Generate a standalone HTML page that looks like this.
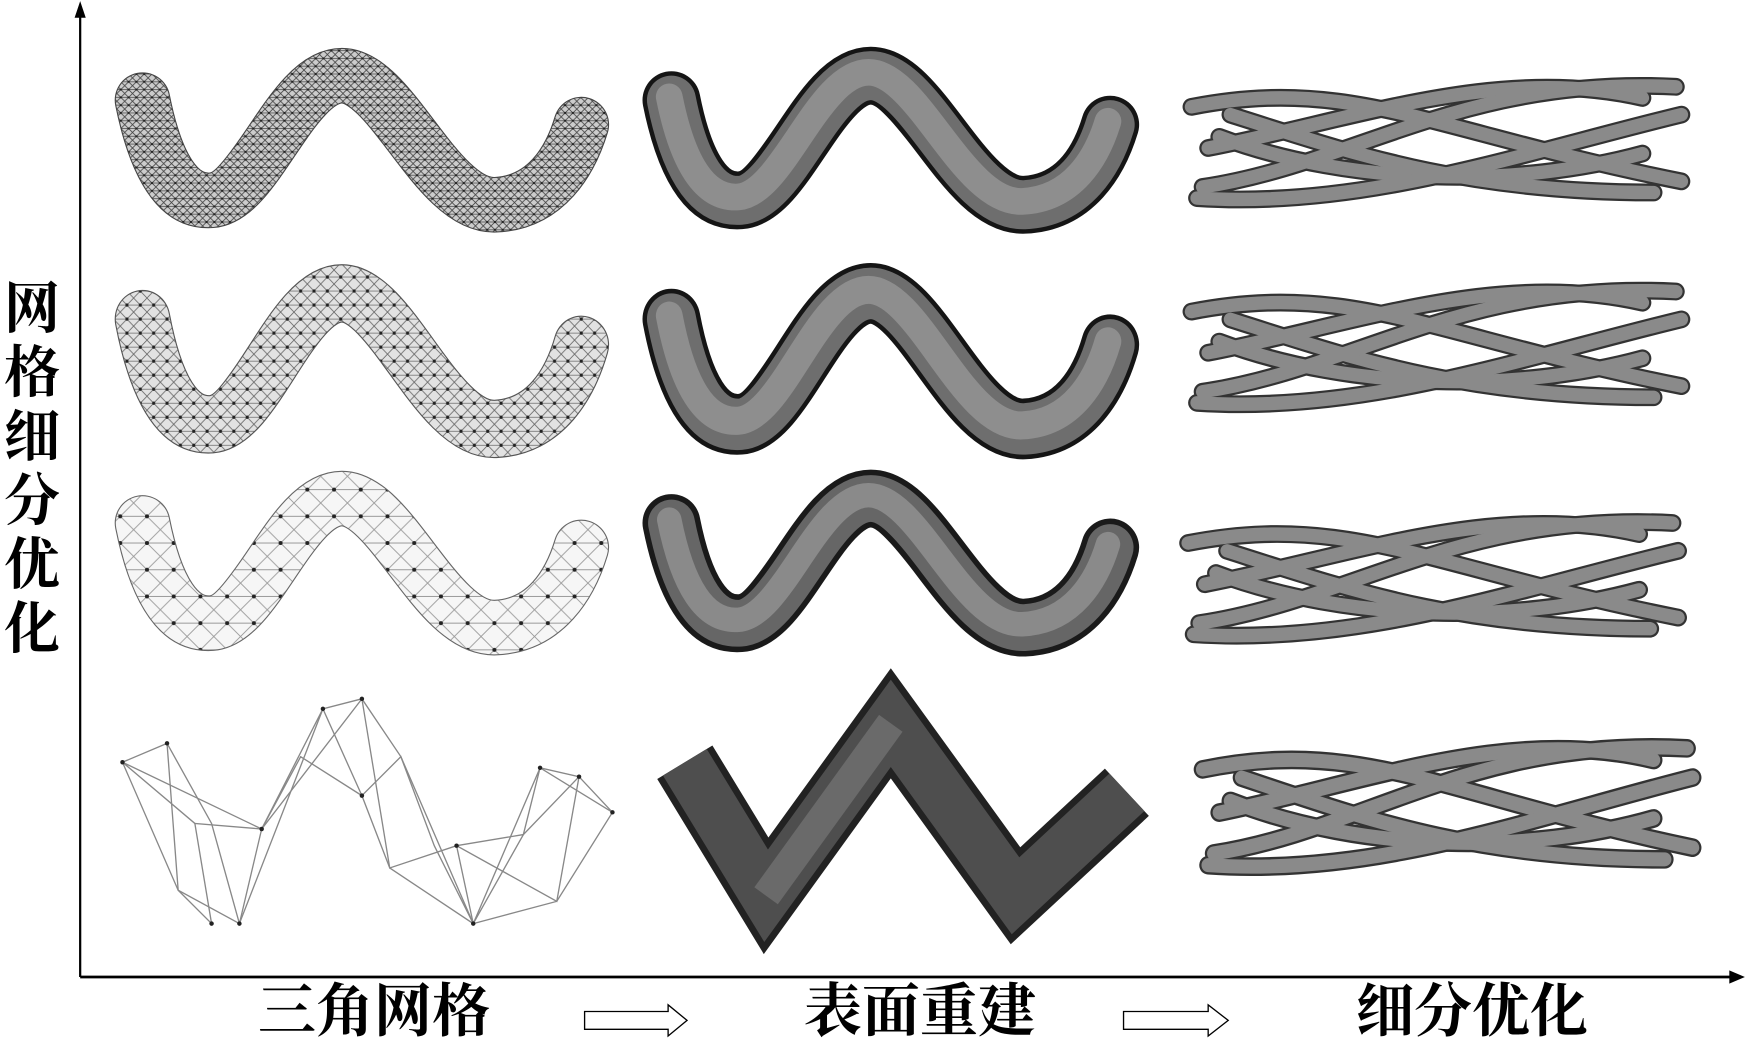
<!DOCTYPE html>
<html><head><meta charset="utf-8"><style>
html,body{margin:0;padding:0;background:#fff;}
body{width:1746px;height:1046px;position:relative;overflow:hidden;font-family:"Liberation Serif","Noto Serif CJK SC","Noto Sans CJK SC",serif;}
svg{position:absolute;left:0;top:0;}
.lab{position:absolute;font-size:58px;line-height:60px;color:#000;font-weight:bold;white-space:nowrap;}
.v{position:absolute;left:2px;top:278px;width:60px;font-size:56px;line-height:64px;font-weight:bold;text-align:center;}
</style></head><body>
<svg width="1746" height="1046" viewBox="0 0 1568 940" preserveAspectRatio="none">
<defs>
<path id="w" d="M128 90 C 140 150, 160 182, 190 180 C 230 177, 262 68, 307 68 C 352 68, 392 186, 445 184 C 490 182, 512 145, 522 112" fill="none"/>
<pattern id="mesh" width="7" height="7" patternUnits="userSpaceOnUse"><rect width="7" height="7" fill="#ccc"/><path d="M0 0L7 7M7 0L0 7M0 3.5H7" stroke="#444" stroke-width="0.7"/><circle cx="3.5" cy="3.5" r="1" fill="#222"/></pattern>
<pattern id="mesh2" width="12" height="12" patternUnits="userSpaceOnUse"><rect width="12" height="12" fill="#e2e2e2"/><path d="M0 0L12 12M12 0L0 12M0 6H12" stroke="#666" stroke-width="0.7"/><circle cx="6" cy="6" r="1.4" fill="#222"/></pattern>
<pattern id="mesh3" width="24" height="24" patternUnits="userSpaceOnUse"><rect width="24" height="24" fill="#f6f6f6"/><path d="M0 0L24 24M24 0L0 24M0 12H24" stroke="#999" stroke-width="0.8"/><circle cx="12" cy="12" r="1.8" fill="#222"/></pattern>
<g id="strands" fill="none" stroke-linecap="round">
<g stroke="#333" stroke-width="16">
<path d="M 40 35 C 150 70, 250 105, 420 105"/><path d="M 30 55 C 150 100, 300 100, 410 70"/><path d="M 5 28 C 150 0, 220 50, 445 95"/><path d="M 20 65 C 150 40, 280 -10, 410 20"/><path d="M 15 100 C 150 80, 250 0, 440 10"/><path d="M 10 110 C 160 120, 300 70, 445 35"/></g>
<g stroke="#8a8a8a" stroke-width="12">
<path d="M 40 35 C 150 70, 250 105, 420 105"/><path d="M 30 55 C 150 100, 300 100, 410 70"/><path d="M 5 28 C 150 0, 220 50, 445 95"/><path d="M 20 65 C 150 40, 280 -10, 410 20"/><path d="M 15 100 C 150 80, 250 0, 440 10"/><path d="M 10 110 C 160 120, 300 70, 445 35"/></g>
</g>
</defs>
<line x1="72" y1="10" x2="72" y2="878" stroke="#000" stroke-width="2"/>
<polygon points="72,1 67,16 77,16" fill="#000"/>
<line x1="72" y1="878" x2="1556" y2="878" stroke="#000" stroke-width="2.5"/>
<polygon points="1567,878 1553,872 1553,884" fill="#000"/>
<polygon points="525,909 600,909 600,903 617,917 600,931 600,925 525,925" fill="#fff" stroke="#000" stroke-width="1.2"/>
<polygon points="1009,909 1085,909 1085,903 1103,917 1085,931 1085,925 1009,925" fill="#fff" stroke="#000" stroke-width="1.2"/>
<!-- column 1 -->
<g><use href="#w" stroke="#444" stroke-width="50" stroke-linecap="round"/><use href="#w" stroke="url(#mesh)" stroke-width="48" stroke-linecap="round"/></g>
<g transform="translate(0,190) translate(0,-45) scale(1,1.05) translate(0,45)"><use href="#w" stroke="#555" stroke-width="50" stroke-linecap="round"/><use href="#w" stroke="url(#mesh2)" stroke-width="48" stroke-linecap="round"/></g>
<g transform="translate(0,380)"><use href="#w" stroke="#666" stroke-width="50" stroke-linecap="round"/><use href="#w" stroke="url(#mesh3)" stroke-width="48" stroke-linecap="round"/></g>
<g fill="none" stroke="#888" stroke-width="1.2">
<polyline points="110,685 150,668 190,740 215,830 235,745 290,637 325,628 360,680 390,760 425,830 470,750 485,690 520,698 550,730 500,810 425,830"/>
<polyline points="110,685 160,800 190,830 175,740 235,745 270,680 325,715 350,780 410,760 470,750 520,698"/>
<polyline points="150,668 160,800 215,830 290,637 325,715 360,680 425,830 485,690 550,730"/>
<polyline points="175,740 110,685 235,745 325,628 350,780 425,830 410,760 500,810 520,698"/>
<g fill="#222" stroke="none"><circle cx="110" cy="685" r="2"/><circle cx="150" cy="668" r="2"/><circle cx="190" cy="830" r="2"/><circle cx="215" cy="830" r="2"/><circle cx="235" cy="745" r="2"/><circle cx="290" cy="637" r="2"/><circle cx="325" cy="628" r="2"/><circle cx="325" cy="715" r="2"/><circle cx="425" cy="830" r="2"/><circle cx="485" cy="690" r="2"/><circle cx="550" cy="730" r="2"/><circle cx="410" cy="760" r="2"/><circle cx="520" cy="698" r="2"/></g>
</g>
<!-- column 2 -->
<g transform="translate(475,0)"><use href="#w" stroke="#151515" stroke-width="52" stroke-linecap="round"/><use href="#w" stroke="#6e6e6e" stroke-width="44" stroke-linecap="round"/><use href="#w" stroke="#8e8e8e" stroke-width="24" stroke-linecap="round" transform="translate(-2,-3)"/></g>
<g transform="translate(475,190) translate(0,-45) scale(1,1.05) translate(0,45)"><use href="#w" stroke="#151515" stroke-width="52" stroke-linecap="round"/><use href="#w" stroke="#6e6e6e" stroke-width="44" stroke-linecap="round"/><use href="#w" stroke="#8e8e8e" stroke-width="24" stroke-linecap="round" transform="translate(-2,-3)"/></g>
<g transform="translate(475,380)"><use href="#w" stroke="#1a1a1a" stroke-width="52" stroke-linecap="round"/><use href="#w" stroke="#666" stroke-width="42" stroke-linecap="round"/><use href="#w" stroke="#8a8a8a" stroke-width="22" stroke-linecap="round" transform="translate(-2,-3)"/></g>
<g fill="none" stroke-linejoin="miter">
<polyline points="615,685 688,805 800,650 912,805 1012,712" stroke="#222" stroke-width="58"/>
<polyline points="615,685 688,805 800,650 912,805 1012,712" stroke="#4e4e4e" stroke-width="46"/>
<polyline points="688,805 800,650" stroke="#6a6a6a" stroke-width="26"/>
</g>
<!-- column 3 -->
<use href="#strands" x="1065" y="68"/>
<use href="#strands" x="1065" y="252"/>
<use href="#strands" x="1062" y="460"/>
<g transform="translate(1075,662) scale(1,1.05)"><use href="#strands"/></g>
</svg>
<div class="v">网<br>格<br>细<br>分<br>优<br>化</div>
<div class="lab" style="left:258px;top:982px;">三角网格</div>
<div class="lab" style="left:804px;top:982px;">表面重建</div>
<div class="lab" style="left:1356px;top:982px;">细分优化</div>
</body></html>
